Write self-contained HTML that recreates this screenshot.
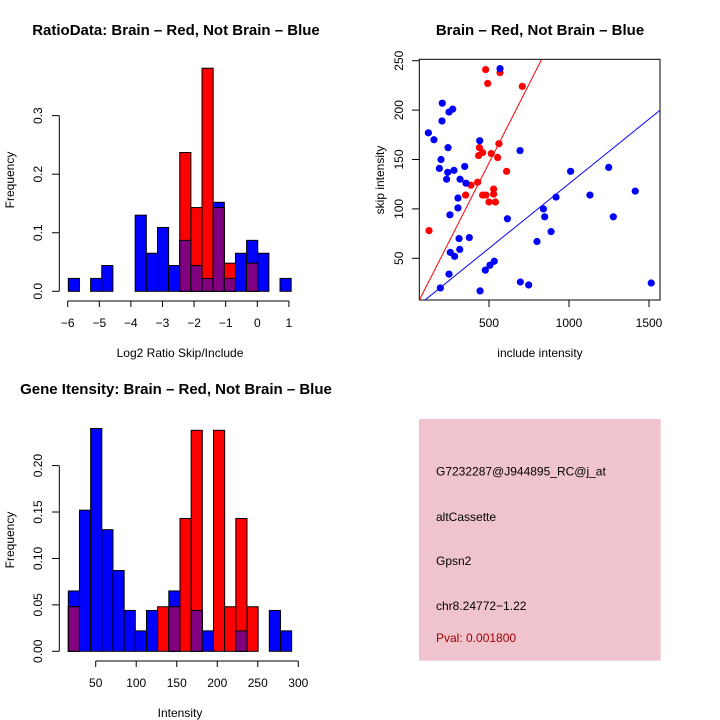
<!DOCTYPE html>
<html><head><meta charset="utf-8"><style>
html,body{margin:0;padding:0;background:#fff;}
svg{display:block;font-family:"Liberation Sans",sans-serif;}
</style></head><body>
<svg id="c" width="720" height="720" viewBox="0 0 720 720">
<defs>
<clipPath id="sc"><rect x="419.3" y="59.3" width="240.7" height="240.7"/></clipPath>
</defs>
</svg>
<script>
// ---- Ratio histogram data ----
const ratioBlue=[0.022,0,0.022,0.044,0,0,0.130,0.065,0.109,0.044,0.087,0.044,0.022,0.152,0.022,0.065,0.087,0.065,0,0.022];
const ratioRed=[0,0,0,0,0,0,0,0,0,0,0.237,0.143,0.381,0.143,0.048,0,0.048,0,0,0];
const ratioXTicks=[-6,-5,-4,-3,-2,-1,0,1];
const ratioYTicks=[0,0.1,0.2,0.3];
// ---- Intensity histogram data ----
const intBlue=[0.065,0.152,0.240,0.131,0.087,0.044,0.022,0.044,0,0.065,0,0.044,0.022,0,0,0.022,0,0,0.044,0.022];
const intRed=[0.048,0,0,0,0,0,0,0,0.048,0.048,0.143,0.238,0,0.238,0.048,0.143,0.048,0,0,0];
const intXTicks=[50,100,150,200,250,300];
const intYTicks=[0,0.05,0.10,0.15,0.20];
// ---- Scatter data ----
const redX=[125,479,492,569,708,562,440,435,460,514,554,610,429,387,354,460,481,529,529,500,540];
const redY=[78,241,227,238,224,166,162,154,157,156,152,138,127,124,114,114,114,120,115,107,107];
const blueX=[569,121,156,208,250,273,206,244,200,190,242,281,348,235,319,356,306,306,256,313,377,317,258,285,250,196,444,477,506,533,615,442,694,1010,840,848,888,800,919,1131,1248,1277,1414,696,748,1514];
const blueY=[242,177,170,207,198,201,189,162,150,141,137,139,143,130,130,126,111,101,94,70,71,59,56,52,34,20,17,38,43,47,90,169,159,138,100,92,77,67,112,114,142,92,118,26,23,25];
const scXTicks=[500,1000,1500];
const scYTicks=[50,100,150,200,250];
const redFit=[-12.9,0.3187];
const blueFit=[-5.3,0.1308];

const svg=document.getElementById('c');
const NS='http://www.w3.org/2000/svg';
function mk(tag,attrs,parent,text){const e=document.createElementNS(NS,tag);for(const k in attrs)e.setAttribute(k,attrs[k]);if(text!==undefined)e.textContent=text;(parent||svg).appendChild(e);return e;}
function fmt(v,d){return v<0?'\u2212'+Math.abs(v).toFixed(d):v.toFixed(d);}

function hist(o){
  const g=mk('g',{});
  
  
  const xs=v=>o.x0+(v-o.v0)*o.kx, ys=v=>o.y0-v*o.ky;
  const n=o.blue.length;
  for(let i=0;i<n;i++){
    const l=xs(o.start+i*o.w), r=xs(o.start+(i+1)*o.w);
    const b=o.blue[i], rd=o.red[i], m=Math.min(b,rd);
    const draw=(v,c,nm)=>{if(v<=0)return;const e=mk('rect',{x:l,y:ys(v),width:r-l,height:ys(0)-ys(v),fill:c,stroke:'#000','stroke-width':1},g);
      
      };
    draw(b,'#0000ff','blue-bar');draw(rd,'#ff0000','red-bar');draw(m,'#800080','overlap-bar');
  }
  const ax=mk('g',{stroke:'#000','stroke-width':1},g);
  
  
  mk('line',{x1:xs(o.xt[0]),x2:xs(o.xt[o.xt.length-1]),y1:o.axY,y2:o.axY},ax);
  o.xt.forEach(t=>{mk('line',{x1:xs(t),x2:xs(t),y1:o.axY,y2:o.axY+6},ax);
    const tx=mk('text',{x:xs(t),y:o.axY+26,'text-anchor':'middle','font-size':12,stroke:'none',fill:'#000'},g,o.xfmt(t));
    
    });
  const ay=mk('g',{stroke:'#000','stroke-width':1},g);
  
  
  mk('line',{x1:59.3,x2:59.3,y1:ys(0),y2:ys(o.yt[o.yt.length-1])},ay);
  o.yt.forEach(t=>{mk('line',{x1:52,x2:59.3,y1:ys(t),y2:ys(t)},ay);
    const tx=mk('text',{x:0,y:0,transform:`translate(42,${ys(t)}) rotate(-90)`,'text-anchor':'middle','font-size':12,fill:'#000'},g,o.yfmt(t));
    
    });
  const xl=mk('text',{x:180,y:o.xlY,'text-anchor':'middle','font-size':12},g,o.xlabel);
  
  
  const yl=mk('text',{x:0,y:0,transform:`translate(14,${o.ylC}) rotate(-90)`,'text-anchor':'middle','font-size':12},g,'Frequency');
  
  
  const tt=mk('text',{x:176,y:o.tY,'text-anchor':'middle','font-size':15,'font-weight':'bold'},g,o.title);
  
  
}

hist({name:'ratio-histogram',blue:ratioBlue,red:ratioRed,start:-5.98,w:0.3526,v0:-6,x0:67.7,kx:31.6,y0:291.3,ky:585.6,
  xt:ratioXTicks,yt:ratioYTicks,axY:301,xfmt:t=>fmt(t,0),yfmt:t=>t.toFixed(1),xlabel:'Log2 Ratio Skip/Include',xlY:357,ylC:180,
  title:'RatioData: Brain \u2013 Red, Not Brain \u2013 Blue',tY:35});
hist({name:'intensity-histogram',blue:intBlue,red:intRed,start:16.2,w:13.78,v0:50,x0:95.7,kx:0.8104,y0:651.3,ky:928.5,
  xt:intXTicks,yt:intYTicks,axY:661,xfmt:t=>String(t),yfmt:t=>t.toFixed(2),xlabel:'Intensity',xlY:717,ylC:540,
  title:'Gene Itensity: Brain \u2013 Red, Not Brain \u2013 Blue',tY:394});

(function(){
  const g=mk('g',{});
  
  
  const xs=v=>409+v*0.16, ys=v=>307.7-v*0.988;
  const box=mk('rect',{x:419.3,y:59.3,width:240.7,height:240.7,fill:'none',stroke:'#000','stroke-width':1},g);
  
  
  const lg=mk('g',{'clip-path':'url(#sc)'},g);
  [[redFit,'#ff0000','red-fit-line'],[blueFit,'#0000ff','blue-fit-line']].forEach(([f,c,nm])=>{
    const l=mk('line',{x1:xs(0),y1:ys(f[0]),x2:xs(2000),y2:ys(f[0]+f[1]*2000),stroke:c,'stroke-width':1},lg);
    
    });
  redX.forEach((x,i)=>{const p=mk('circle',{cx:xs(x),cy:ys(redY[i]),r:3.6,fill:'#ff0000'},g);
    
    });
  blueX.forEach((x,i)=>{const p=mk('circle',{cx:xs(x),cy:ys(blueY[i]),r:3.6,fill:'#0000ff'},g);
    
    });
  scXTicks.forEach(t=>{mk('line',{x1:xs(t),x2:xs(t),y1:300,y2:307,stroke:'#000'},g);
    const tx=mk('text',{x:xs(t),y:327,'text-anchor':'middle','font-size':12},g,String(t));
    
    });
  scYTicks.forEach(t=>{mk('line',{x1:412,x2:419.3,y1:ys(t),y2:ys(t),stroke:'#000'},g);
    const tx=mk('text',{x:0,y:0,transform:`translate(403,${ys(t)}) rotate(-90)`,'text-anchor':'middle','font-size':12},g,String(t));
    
    });
  const xl=mk('text',{x:540,y:357,'text-anchor':'middle','font-size':12},g,'include intensity');
  
  
  const yl=mk('text',{x:0,y:0,transform:'translate(384,180) rotate(-90)','text-anchor':'middle','font-size':12},g,'skip intensity');
  
  
  const tt=mk('text',{x:540,y:35,'text-anchor':'middle','font-size':15,'font-weight':'bold'},g,'Brain \u2013 Red, Not Brain \u2013 Blue');
  
  
})();

(function(){
  const g=mk('g',{});
  
  
  mk('rect',{x:419,y:419,width:241.7,height:241.7,fill:'#f0c4ce'},g);
  const lines=[['G7232287@J944895_RC@j_at',475.7,'#000','probe-id'],['altCassette',521,'#000','event-type'],['Gpsn2',565,'#000','gene-name'],['chr8.24772\u22121.22',610,'#000','location'],['Pval: 0.001800',642,'#a00000','p-value']];
  lines.forEach(([t,y,c,nm])=>{const e=mk('text',{x:436,y:y,'font-size':12,fill:c},g,t);
    
    });
})();
</script>
</body></html>
